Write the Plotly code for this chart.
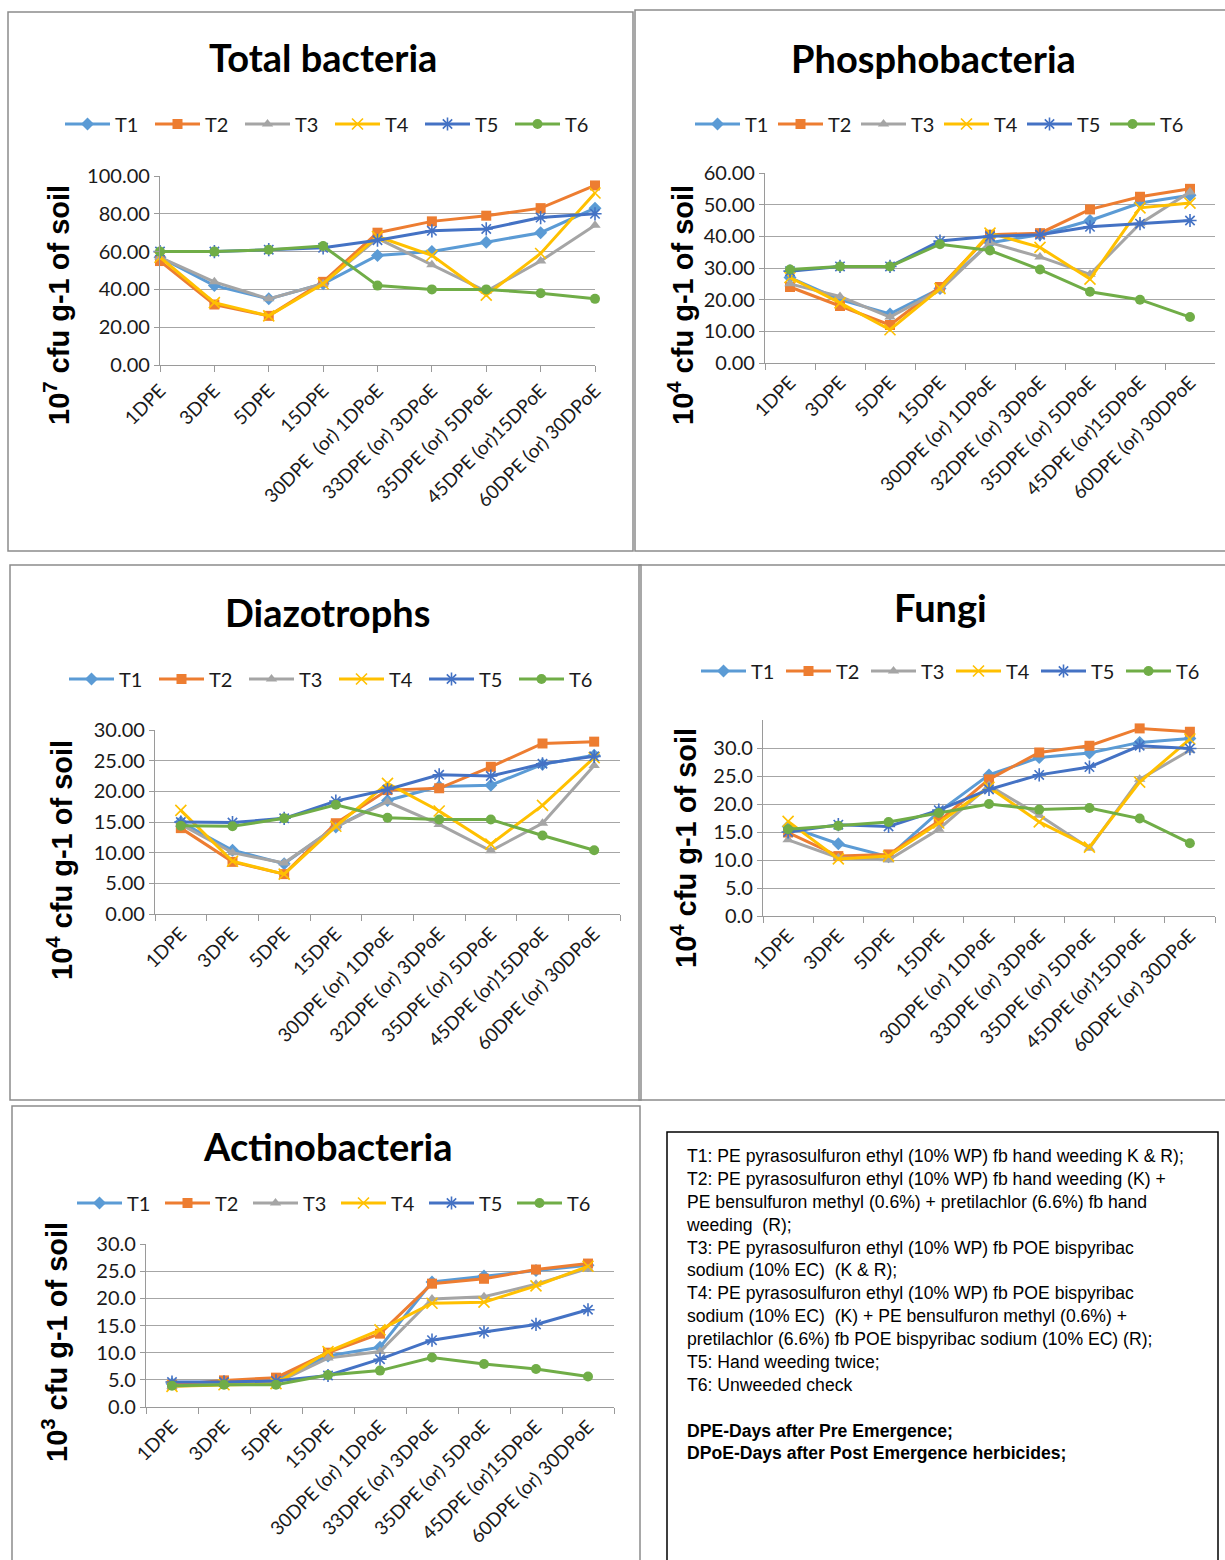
import plotly.graph_objects as go

W, H = 1225, 1560

# ---------------- data ----------------
series_names = ["T1", "T2", "T3", "T4", "T5", "T6"]

cats_tb = ["1DPE", "3DPE", "5DPE", "15DPE", "30DPE  (or) 1DPoE", "33DPE (or) 3DPoE",
           "35DPE (or) 5DPoE", "45DPE (or)15DPoE", "60DPE (or) 30DPoE"]
cats_pb = ["1DPE", "3DPE", "5DPE", "15DPE", "30DPE (or) 1DPoE", "32DPE (or) 3DPoE",
           "35DPE (or) 5DPoE", "45DPE (or)15DPoE", "60DPE (or) 30DPoE"]
cats_dz = ["1DPE", "3DPE", "5DPE", "15DPE", "30DPE (or) 1DPoE", "32DPE (or) 3DPoE",
           "35DPE (or) 5DPoE", "45DPE (or)15DPoE", "60DPE (or) 30DPoE"]
cats_fu = ["1DPE", "3DPE", "5DPE", "15DPE", "30DPE (or) 1DPoE", "33DPE (or) 3DPoE",
           "35DPE (or) 5DPoE", "45DPE (or)15DPoE", "60DPE (or) 30DPoE"]
cats_ac = ["1DPE", "3DPE", "5DPE", "15DPE", "30DPE (or) 1DPoE", "33DPE (or) 3DPoE",
           "35DPE (or) 5DPoE", "45DPE (or)15DPoE", "60DPE (or) 30DPoE"]

# Total bacteria (10^7 cfu g-1 of soil)
tb_T1 = [57, 42, 35, 43, 58, 60, 65, 70, 83]
tb_T2 = [55, 32, 26, 44, 70, 76, 79, 83, 95]
tb_T3 = [57, 44, 35, 43, 67, 53, 39, 55, 74]
tb_T4 = [57, 33, 26, 43, 68, 58, 37, 59, 91]
tb_T5 = [60, 60, 61, 62, 66, 71, 72, 78, 80]
tb_T6 = [60, 60, 61, 63, 42, 40, 40, 38, 35]

# Phosphobacteria (10^4)
pb_T1 = [27, 20, 15.5, 23.5, 38, 40.5, 45, 50.5, 53]
pb_T2 = [24, 18, 12, 24, 40.5, 41, 48.5, 52.5, 55]
pb_T3 = [25, 21, 14.5, 23, 38, 33.5, 28, 44, 54]
pb_T4 = [27, 19, 10.5, 23.5, 41, 36.5, 26.5, 49, 50.5]
pb_T5 = [29, 30.5, 30.5, 38.5, 40, 40.5, 43, 44, 45]
pb_T6 = [29.5, 30.5, 30.5, 37.5, 35.5, 29.5, 22.5, 20, 14.5]

# Diazotrophs (10^4)
dz_T1 = [15, 10.4, 8.2, 14.2, 18.5, 20.8, 21, 24.4, 25.9]
dz_T2 = [14, 8.5, 6.5, 14.8, 20.2, 20.5, 24, 27.8, 28.1]
dz_T3 = [14.6, 10, 8.3, 14.2, 18.3, 14.6, 10.3, 14.8, 24.2]
dz_T4 = [16.9, 8.6, 6.5, 14.3, 21.3, 16.8, 11.4, 17.7, 25.5]
dz_T5 = [15, 14.9, 15.6, 18.4, 20.3, 22.7, 22.5, 24.5, 25.7]
dz_T6 = [14.4, 14.3, 15.6, 17.8, 15.7, 15.4, 15.4, 12.8, 10.4]

# Fungi (10^4)
fu_T1 = [16, 12.9, 10.6, 18.6, 25.2, 28.3, 29.1, 31, 31.7]
fu_T2 = [14.9, 10.7, 11, 16.9, 24.4, 29.2, 30.4, 33.5, 32.9]
fu_T3 = [13.6, 10.4, 10, 15.5, 23.3, 18, 12.1, 24.4, 29.6]
fu_T4 = [16.9, 10.2, 10.7, 16.6, 23, 16.8, 12.3, 23.9, 31.6]
fu_T5 = [15, 16.3, 16, 18.9, 22.6, 25.2, 26.6, 30.4, 29.9]
fu_T6 = [15.5, 16.1, 16.8, 18.4, 20, 19, 19.3, 17.4, 13]

# Actinobacteria (10^3)
ac_T1 = [4.3, 4.7, 5, 9.4, 11, 23, 24.1, 25.1, 26.1]
ac_T2 = [4.1, 4.9, 5.4, 10, 13.5, 22.7, 23.6, 25.3, 26.4]
ac_T3 = [3.8, 4.2, 4.4, 9, 10.2, 19.9, 20.3, 22.6, 25.5]
ac_T4 = [3.8, 4.1, 4.3, 10.2, 14.2, 19.1, 19.3, 22.3, 25.9]
ac_T5 = [4.6, 4.6, 4.8, 5.8, 8.8, 12.3, 13.8, 15.2, 17.9]
ac_T6 = [3.9, 4.1, 4.1, 5.9, 6.7, 9.1, 7.9, 7.0, 5.6]

colors = ["#5B9BD5", "#ED7D31", "#A5A5A5", "#FFC000", "#4472C4", "#70AD47"]
symbols = ["diamond", "square", "triangle-up", "x-thin-open", "asterisk-open", "circle"]

TITLE_FONT = "Lato"
TICK_FONT = "Lato"
TEXT_FONT = "Liberation Sans"


def px(x):
    return x / W


def py(y):
    return 1 - y / H


charts = [
    dict(title="Total bacteria", cats=cats_tb,
         data=[tb_T1, tb_T2, tb_T3, tb_T4, tb_T5, tb_T6],
         ytitle="10<sup>7</sup> cfu g-1 of soil",
         xdom=(160, 595), ytop=176, ybot=365, yrange=(0, 100), dtick=20, fmt=".2f",
         between=False, title_xy=(323, 57), ytitle_xy=(57, 305),
         leg_xy=(60, 124), entry=90, boxc=(8, 12, 633, 551)),
    dict(title="Phosphobacteria", cats=cats_pb,
         data=[pb_T1, pb_T2, pb_T3, pb_T4, pb_T5, pb_T6],
         ytitle="10<sup>4</sup> cfu g-1 of soil",
         xdom=(765, 1215), ytop=173, ybot=363, yrange=(0, 60), dtick=10, fmt=".2f",
         between=True, title_xy=(933, 58), ytitle_xy=(681, 305),
         leg_xy=(690, 124), entry=83, boxc=(635, 10, 1226, 551)),
    dict(title="Diazotrophs", cats=cats_dz,
         data=[dz_T1, dz_T2, dz_T3, dz_T4, dz_T5, dz_T6],
         ytitle="10<sup>4</sup> cfu g-1 of soil",
         xdom=(155, 620), ytop=730, ybot=914, yrange=(0, 30), dtick=5, fmt=".2f",
         between=True, title_xy=(327, 612), ytitle_xy=(60, 860),
         leg_xy=(64, 679), entry=90, boxc=(10, 565, 641, 1100)),
    dict(title="Fungi", cats=cats_fu,
         data=[fu_T1, fu_T2, fu_T3, fu_T4, fu_T5, fu_T6],
         ytitle="10<sup>4</sup> cfu g-1 of soil",
         xdom=(763, 1215), ytop=720, ybot=916, yrange=(0, 35), dtick=5, fmt=".1f",
         between=True, title_xy=(940, 607), ytitle_xy=(684, 848),
         leg_xy=(696, 671), entry=85, boxc=(639, 565, 1226, 1100), tickmax=30),
    dict(title="Actinobacteria", cats=cats_ac,
         data=[ac_T1, ac_T2, ac_T3, ac_T4, ac_T5, ac_T6],
         ytitle="10<sup>3</sup> cfu g-1 of soil",
         xdom=(146, 614), ytop=1244, ybot=1407, yrange=(0, 30), dtick=5, fmt=".1f",
         between=True, title_xy=(327, 1146), ytitle_xy=(55, 1342),
         leg_xy=(72, 1203), entry=88, boxc=(12, 1106, 640, 1562)),
]

ENTRY_OVERHEAD = 60  # itemwidth + gaps that plotly adds to entrywidth

fig = go.Figure()
annotations = []
shapes = []
layout_extra = {}

for i, ch in enumerate(charts):
    n = i + 1
    xa = "x" if n == 1 else f"x{n}"
    ya = "y" if n == 1 else f"y{n}"
    xkey = "xaxis" if n == 1 else f"xaxis{n}"
    ykey = "yaxis" if n == 1 else f"yaxis{n}"
    legkey = "legend" if n == 1 else f"legend{n}"

    for j, name in enumerate(series_names):
        sym = symbols[j]
        open_sym = sym.endswith("-open")
        fig.add_trace(go.Scatter(
            x=ch["cats"], y=ch["data"][j], name=name, mode="lines+markers",
            xaxis=xa, yaxis=ya, legend=legkey, cliponaxis=False,
            line=dict(color=colors[j], width=3),
            marker=dict(symbol=sym, size=10 if not open_sym else 11,
                        color=colors[j],
                        line=dict(color=colors[j], width=1.6 if open_sym else 0)),
        ))

    x0, x1 = ch["xdom"]
    rng = [-0.5, 8.5] if ch["between"] else [0, 8]
    layout_extra[xkey] = dict(
        domain=[px(x0), px(x1)], anchor=ya, type="category", range=rng,
        tickangle=-45, tickfont=dict(family=TICK_FONT, size=19, color="#1a1a1a"),
        showline=True, linecolor="#9a9a9a", linewidth=1.3,
        ticks="outside", ticklen=6, tickcolor="#9a9a9a",
        tickson="boundaries" if ch["between"] else "labels",
        showgrid=False, zeroline=False, fixedrange=True, automargin=False,
    )
    tmax = ch.get("tickmax", ch["yrange"][1])
    tv = []
    v = ch["yrange"][0]
    while v <= tmax + 1e-9:
        tv.append(v)
        v += ch["dtick"]
    layout_extra[ykey] = dict(
        domain=[py(ch["ybot"]), py(ch["ytop"])], anchor=xa, range=list(ch["yrange"]),
        tickvals=tv, tickformat=ch["fmt"],
        tickfont=dict(family=TICK_FONT, size=20, color="#1a1a1a"),
        showline=True, linecolor="#9a9a9a", linewidth=1.3,
        ticks="outside", ticklen=5, tickcolor="#9a9a9a",
        showgrid=True, gridcolor="#a6a6a6", gridwidth=1.2, zeroline=False,
        fixedrange=True, automargin=False,
    )

    layout_extra[legkey] = dict(
        orientation="h", x=px(ch["leg_xy"][0]), y=py(ch["leg_xy"][1]),
        xanchor="left", yanchor="middle", xref="paper", yref="paper",
        font=dict(family=TICK_FONT, size=20, color="#1a1a1a"),
        entrywidth=ch["entry"] - ENTRY_OVERHEAD, entrywidthmode="pixels", itemwidth=45,
        bgcolor="rgba(0,0,0,0)", tracegroupgap=0,
    )

    tx, ty = ch["title_xy"]
    annotations.append(dict(
        text=f"<b>{ch['title']}</b>", x=px(tx), y=py(ty), xref="paper", yref="paper",
        showarrow=False, xanchor="center", yanchor="middle",
        font=dict(family=TITLE_FONT, size=38, color="#000000"),
    ))
    yx, yy = ch["ytitle_xy"]
    annotations.append(dict(
        text=f"<b>{ch['ytitle']}</b>", x=px(yx), y=py(yy), xref="paper", yref="paper",
        showarrow=False, xanchor="center", yanchor="middle", textangle=-90,
        font=dict(family=TEXT_FONT, size=29, color="#000000"),
    ))
    bx0, by0, bx1, by1 = ch["boxc"]
    shapes.append(dict(type="rect", xref="paper", yref="paper",
                       x0=px(bx0), x1=px(bx1), y0=py(by1), y1=py(by0),
                       line=dict(color="#8c8c8c", width=1.5), fillcolor="rgba(0,0,0,0)",
                       layer="below"))

# Key text box
key_lines = [
    "T1: PE pyrasosulfuron ethyl (10% WP) fb hand weeding K &amp; R);",
    "T2: PE pyrasosulfuron ethyl (10% WP) fb hand weeding (K) +",
    "PE bensulfuron methyl (0.6%) + pretilachlor (6.6%) fb hand",
    "weeding  (R);",
    "T3: PE pyrasosulfuron ethyl (10% WP) fb POE bispyribac",
    "sodium (10% EC)  (K &amp; R);",
    "T4: PE pyrasosulfuron ethyl (10% WP) fb POE bispyribac",
    "sodium (10% EC)  (K) + PE bensulfuron methyl (0.6%) +",
    "pretilachlor (6.6%) fb POE bispyribac sodium (10% EC) (R);",
    "T5: Hand weeding twice;",
    "T6: Unweeded check",
    "",
    "<b>DPE-Days after Pre Emergence;</b>",
    "<b>DPoE-Days after Post Emergence herbicides;</b>",
]
shapes.append(dict(type="rect", xref="paper", yref="paper",
                   x0=px(667), x1=px(1218), y0=py(1565), y1=py(1132),
                   line=dict(color="#000000", width=1.5), fillcolor="rgba(0,0,0,0)"))
annotations.append(dict(
    text="<br>".join(k if k else " " for k in key_lines),
    x=px(684), y=py(1144), xref="paper", yref="paper", showarrow=False,
    xanchor="left", yanchor="top", align="left",
    font=dict(family=TEXT_FONT, size=17.6, color="#000000"),
))

fig.update_layout(
    width=W, height=H, autosize=False,
    margin=dict(l=0, r=0, t=0, b=0, pad=0, autoexpand=False),
    paper_bgcolor="white", plot_bgcolor="white",
    annotations=annotations, shapes=shapes,
    **layout_extra,
)

fig.write_html("out.html",
               config={"displayModeBar": False},
               post_script="document.body.style.margin='0px';")
